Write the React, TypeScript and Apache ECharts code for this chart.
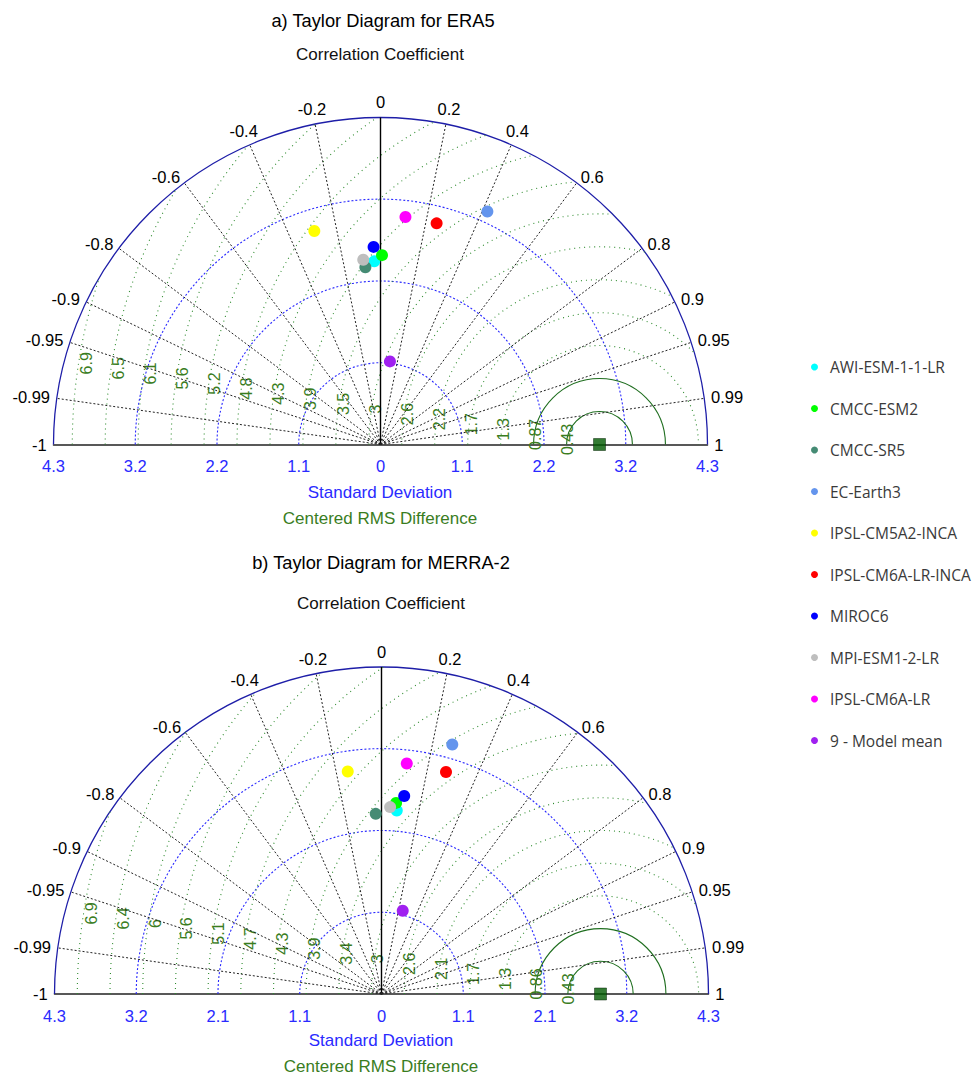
import React, { useEffect, useRef } from 'react';
import * as echarts from 'echarts';

// ---------- data ----------
const MODELS = [
  'AWI-ESM-1-1-LR',
  'CMCC-ESM2',
  'CMCC-SR5',
  'EC-Earth3',
  'IPSL-CM5A2-INCA',
  'IPSL-CM6A-LR-INCA',
  'MIROC6',
  'MPI-ESM1-2-LR',
  'IPSL-CM6A-LR',
  '9 - Model mean',
];
const COLORS = ['#00ffff', '#00ff00', '#458b74', '#6495ed', '#ffff00', '#ff0000', '#0000ff', '#bebebe', '#ff00ff', '#a020f0'];

const ERA5_STD = [2.41, 2.49, 2.34, 3.37, 2.94, 3.0, 2.6, 2.44, 3.01, 1.1];
const ERA5_CORR = [-0.034, 0.008, -0.085, 0.417, -0.296, 0.246, -0.035, -0.093, 0.109, 0.113];
const ERA5_REF_STD = 2.88;

const MERRA2_STD = [2.42, 2.52, 2.37, 3.41, 2.96, 3.04, 2.62, 2.46, 3.05, 1.13];
const MERRA2_CORR = [0.083, 0.076, -0.032, 0.273, -0.15, 0.279, 0.114, 0.046, 0.109, 0.247];
const MERRA2_REF_STD = 2.88;

const STD_MAX = 4.3;
const STD_INTERVAL = 1.075;
const STD_TICKS = [-4.3, -3.225, -2.15, -1.075, 0, 1.075, 2.15, 3.225, 4.3];
const STD_LABELS_ERA5 = ['4.3', '3.2', '2.2', '1.1', '0', '1.1', '2.2', '3.2', '4.3'];
const STD_LABELS_MERRA2 = ['4.3', '3.2', '2.1', '1.1', '0', '1.1', '2.1', '3.2', '4.3'];
const STD_ARCS = [1.075, 2.15, 3.225, 4.3];

const CORR_TICKS = [-1, -0.99, -0.95, -0.9, -0.8, -0.6, -0.4, -0.2, 0, 0.2, 0.4, 0.6, 0.8, 0.9, 0.95, 0.99, 1];

const RMS_VALUES_ERA5 = [0.433, 0.867, 1.3, 1.733, 2.167, 2.6, 3.033, 3.467, 3.9, 4.333, 4.767, 5.2, 5.633, 6.067, 6.5, 6.933];
const RMS_LABELS_ERA5 = ['0.43', '0.87', '1.3', '1.7', '2.2', '2.6', '3', '3.5', '3.9', '4.3', '4.8', '5.2', '5.6', '6.1', '6.5', '6.9'];
const RMS_VALUES_MERRA2 = [0.43, 0.86, 1.29, 1.72, 2.15, 2.58, 3.01, 3.44, 3.87, 4.3, 4.73, 5.16, 5.59, 6.02, 6.45, 6.88];
const RMS_LABELS_MERRA2 = ['0.43', '0.86', '1.3', '1.7', '2.1', '2.6', '3', '3.4', '3.9', '4.3', '4.7', '5.1', '5.6', '6', '6.4', '6.9'];

const PANELS = [
  { std: ERA5_STD, corr: ERA5_CORR, ref: ERA5_REF_STD, stdLabels: STD_LABELS_ERA5, rmsVals: RMS_VALUES_ERA5, rmsLabels: RMS_LABELS_ERA5 },
  { std: MERRA2_STD, corr: MERRA2_CORR, ref: MERRA2_REF_STD, stdLabels: STD_LABELS_MERRA2, rmsVals: RMS_VALUES_MERRA2, rmsLabels: RMS_LABELS_MERRA2 },
];

// ---------- style ----------
const FONT = "'Liberation Sans', Arial, sans-serif";
const BLUE = '#2a2aff';
const GREEN_TXT = '#3a7d1e';
const GRIDS = [
  { left: 53.5, top: 117.5, width: 654, height: 327 },
  { left: 54.5, top: 667, width: 654, height: 327 },
];

function txt(text: string, x: number, y: number, size: number, color: string) {
  return {
    type: 'text',
    x,
    y,
    silent: true,
    style: {
      text,
      fill: color,
      fontSize: size,
      fontFamily: FONT,
      align: 'center',
      verticalAlign: 'middle',
      textAlign: 'center',
      textVerticalAlign: 'middle',
    },
  };
}

function buildOption() {
  const xAxis: any[] = [];
  const yAxis: any[] = [];
  const series: any[] = [];

  PANELS.forEach((p, gi) => {
    xAxis.push({
      type: 'value',
      gridIndex: gi,
      min: -STD_MAX,
      max: STD_MAX,
      interval: STD_INTERVAL,
      axisLine: { show: true, onZero: false, lineStyle: { color: '#222', width: 1.5 } },
      axisTick: { show: false },
      splitLine: { show: false },
      axisLabel: {
        color: BLUE,
        fontSize: 16.5,
        fontFamily: FONT,
        margin: 13,
        formatter: (v: number) => {
          let best = 0;
          STD_TICKS.forEach((t, i) => {
            if (Math.abs(t - v) < Math.abs(STD_TICKS[best] - v)) best = i;
          });
          return p.stdLabels[best];
        },
      },
    });
    yAxis.push({ type: 'value', gridIndex: gi, min: 0, max: STD_MAX, show: false });

    // standard deviation arcs
    series.push({
      type: 'custom',
      xAxisIndex: gi,
      yAxisIndex: gi,
      silent: true,
      z: 2,
      data: STD_ARCS.map((v) => [v, 0]),
      renderItem: (params: any, api: any) => {
        const v = api.value(0);
        const c = api.coord([0, 0]);
        const r = api.coord([v, 0])[0] - c[0];
        const outer = Math.abs(v - STD_MAX) < 1e-6;
        return {
          type: 'arc',
          shape: { cx: c[0], cy: c[1], r, startAngle: Math.PI, endAngle: 2 * Math.PI, clockwise: true },
          style: outer
            ? { stroke: '#1e1ea8', lineWidth: 1.3, fill: 'none' }
            : { stroke: BLUE, lineWidth: 1.1, lineDash: [2, 2], fill: 'none' },
        };
      },
    });

    // centered RMS difference arcs
    series.push({
      type: 'custom',
      xAxisIndex: gi,
      yAxisIndex: gi,
      silent: true,
      z: 3,
      data: p.rmsVals.map((v) => [v, 0]),
      renderItem: (params: any, api: any) => {
        const R = api.value(0);
        const s = p.ref;
        const M = STD_MAX;
        let th0 = 0;
        if (s + R > M) {
          const xi = (M * M - R * R + s * s) / (2 * s);
          th0 = Math.acos(Math.max(-1, Math.min(1, (xi - s) / R)));
        }
        const c = api.coord([s, 0]);
        const r = api.coord([s + R, 0])[0] - c[0];
        const solid = params.dataIndex < 2;
        const la = (171 * Math.PI) / 180;
        const lr = R * 0.985;
        const lp = api.coord([s + lr * Math.cos(la), lr * Math.sin(la)]);
        return {
          type: 'group',
          children: [
            {
              type: 'arc',
              shape: { cx: c[0], cy: c[1], r, startAngle: -Math.PI, endAngle: -th0, clockwise: true },
              style: solid
                ? { stroke: '#1f6e1f', lineWidth: 1.1, fill: 'none' }
                : { stroke: '#2e8b2e', lineWidth: 1.1, lineDash: [1, 4], fill: 'none' },
            },
            {
              type: 'text',
              x: lp[0],
              y: lp[1],
              rotation: Math.PI / 2,
              style: {
                text: p.rmsLabels[params.dataIndex],
                fill: GREEN_TXT,
                fontSize: 16,
                fontFamily: FONT,
                align: 'center',
                verticalAlign: 'middle',
              },
            },
          ],
        };
      },
    });

    // correlation radial lines and labels
    series.push({
      type: 'custom',
      xAxisIndex: gi,
      yAxisIndex: gi,
      silent: true,
      z: 4,
      data: CORR_TICKS.map((c) => [c, 0]),
      renderItem: (params: any, api: any) => {
        const cv = api.value(0);
        const sv = Math.sqrt(Math.max(0, 1 - cv * cv));
        const o = api.coord([0, 0]);
        const e = api.coord([STD_MAX * cv, STD_MAX * sv]);
        const children: any[] = [];
        if (Math.abs(cv) < 0.99999) {
          children.push({
            type: 'line',
            shape: { x1: o[0], y1: o[1], x2: e[0], y2: e[1] },
            style: cv === 0 ? { stroke: '#000', lineWidth: 1.4 } : { stroke: '#222', lineWidth: 1, lineDash: [2, 2] },
          });
        }
        const side = Math.abs(cv) >= 0.5;
        const lr = side ? 4.39 : 4.5;
        const lp = api.coord([lr * cv, lr * sv]);
        children.push({
          type: 'text',
          x: lp[0],
          y: lp[1],
          style: {
            text: String(CORR_TICKS[params.dataIndex]),
            fill: '#000',
            fontSize: 16.5,
            fontFamily: FONT,
            align: side ? (cv > 0 ? 'left' : 'right') : 'center',
            verticalAlign: 'middle',
          },
        });
        return { type: 'group', children };
      },
    });

    // models
    MODELS.forEach((name, i) => {
      const sd = p.std[i];
      const cr = p.corr[i];
      series.push({
        type: 'scatter',
        name,
        xAxisIndex: gi,
        yAxisIndex: gi,
        symbol: 'circle',
        symbolSize: 12,
        z: 10,
        itemStyle: { color: COLORS[i], opacity: 1 },
        data: [[sd * cr, sd * Math.sqrt(1 - cr * cr)]],
      });
    });

    // reference
    series.push({
      type: 'scatter',
      name: 'Reference',
      xAxisIndex: gi,
      yAxisIndex: gi,
      symbol: 'rect',
      symbolSize: 12,
      z: 11,
      itemStyle: { color: '#005a00', borderColor: '#002000', borderWidth: 0.6 },
      data: [[p.ref, 0]],
    });
  });

  return {
    animation: false,
    backgroundColor: '#ffffff',
    grid: GRIDS.map((g) => ({ ...g, containLabel: false })),
    xAxis,
    yAxis,
    legend: {
      data: MODELS,
      orient: 'vertical',
      left: 806,
      top: 354,
      itemWidth: 21,
      itemHeight: 7,
      itemGap: 25.5,
      icon: 'circle',
      selectedMode: false,
      textStyle: { fontSize: 15.5, lineHeight: 16, color: '#3a3a3a', fontFamily: "'Open Sans', sans-serif" },
    },
    graphic: [
      txt('a) Taylor Diagram for ERA5', 383, 20, 18.3, '#000'),
      txt('Correlation Coefficient', 380, 54, 17, '#111'),
      txt('Standard Deviation', 380, 492, 17, BLUE),
      txt('Centered RMS Difference', 380, 518, 17, GREEN_TXT),
      txt('b) Taylor Diagram for MERRA-2', 381, 562, 18.3, '#000'),
      txt('Correlation Coefficient', 381, 603, 17, '#111'),
      txt('Standard Deviation', 381, 1040, 17, BLUE),
      txt('Centered RMS Difference', 381, 1066, 17, GREEN_TXT),
    ],
    series,
  };
}

export default function App() {
  const ref = useRef<HTMLDivElement>(null);
  useEffect(() => {
    if (!ref.current) return;
    const chart = echarts.init(ref.current, undefined, { renderer: 'svg' });
    chart.setOption(buildOption() as any);
    return () => chart.dispose();
  }, []);
  return (
    <div
      ref={ref}
      style={{ position: 'absolute', left: 0, top: 0, width: 973, height: 1076, background: '#fff' }}
    />
  );
}
